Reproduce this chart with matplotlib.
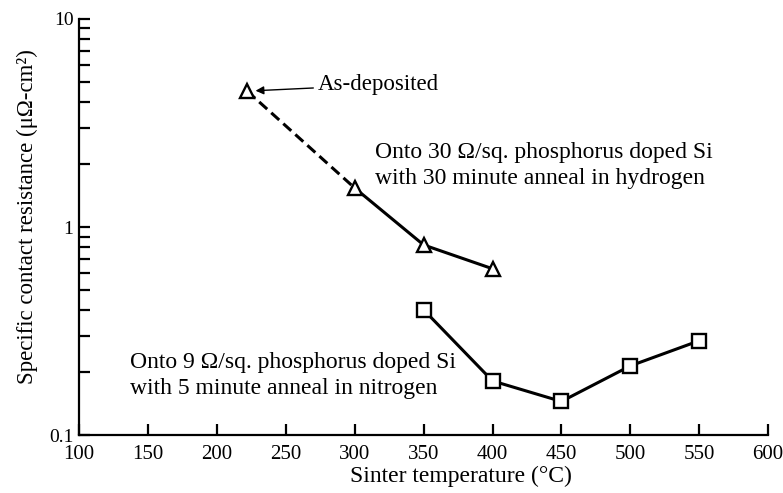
import matplotlib
matplotlib.use("Agg")
import matplotlib.pyplot as plt
from matplotlib.ticker import FixedLocator, FixedFormatter, NullFormatter

plt.rcParams["font.family"] = ["Liberation Serif", "DejaVu Serif"]

# 30 ohm/sq, 30 min anneal in H2 (first point is as-deposited)
temp_h2 = [222, 300, 350, 400]
res_h2 = [4.5, 1.54, 0.82, 0.63]

# 9 ohm/sq, 5 min anneal in N2
temp_n2 = [350, 400, 450, 500, 550]
res_n2 = [0.40, 0.182, 0.145, 0.215, 0.284]

x_ticks = [100, 150, 200, 250, 300, 350, 400, 450, 500, 550, 600]
y_ticks = [0.1, 1, 10]
y_tick_labels = ["0.1", "1", "10"]

fig = plt.figure(figsize=(7.83, 4.93), dpi=100)
ax = fig.add_axes([0.101, 0.1176, 0.880, 0.8439])

# as-deposited -> first anneal point is dashed
ax.plot(temp_h2[:2], res_h2[:2], color="black", lw=2.2, dashes=(3.5, 1.8))
ax.plot(temp_h2[1:], res_h2[1:], color="black", lw=2.2)
ax.plot(temp_h2, res_h2, ls="none", marker="^", ms=9.5, mfc="white",
        mec="black", mew=1.7, zorder=3)

ax.plot(temp_n2, res_n2, color="black", lw=2.2, marker="s", ms=9.5,
        mfc="white", mec="black", mew=1.7)

ax.set_yscale("log")
ax.set_xlim(100, 600)
ax.set_ylim(0.1, 10)

ax.xaxis.set_major_locator(FixedLocator(x_ticks))
ax.yaxis.set_major_locator(FixedLocator(y_ticks))
ax.yaxis.set_major_formatter(FixedFormatter(y_tick_labels))
minor = [m * d for d in (0.1, 1) for m in range(2, 10)]
ax.yaxis.set_minor_locator(FixedLocator(minor))
ax.yaxis.set_minor_formatter(NullFormatter())
ax.xaxis.set_minor_locator(FixedLocator([]))

ax.spines["top"].set_visible(False)
ax.spines["right"].set_visible(False)
for s in ("left", "bottom"):
    ax.spines[s].set_linewidth(1.6)

ax.tick_params(axis="both", which="both", direction="in", width=1.6)
ax.tick_params(axis="y", which="both", length=8, pad=4, labelsize=14)
ax.tick_params(axis="x", which="both", length=8, pad=7, labelsize=15)

ax.set_xlabel("Sinter temperature (°C)", fontsize=17)
ax.xaxis.set_label_coords(0.554, -0.075)
ax.set_ylabel("Specific contact resistance (μΩ-cm²)", fontsize=16.5)
ax.yaxis.set_label_coords(-0.059, 0.524)

ax.annotate("As-deposited", xy=(temp_h2[0], res_h2[0]), xytext=(273, 4.82),
            fontsize=16.5, ha="left", va="center",
            arrowprops=dict(arrowstyle="-|>", lw=1.0, color="black",
                            shrinkA=1, shrinkB=6, mutation_scale=12))

ax.text(315, 2.29, "Onto 30 Ω/sq. phosphorus doped Si", fontsize=17,
        ha="left", va="center")
ax.text(315, 1.72, "with 30 minute anneal in hydrogen", fontsize=17,
        ha="left", va="center")
ax.text(137, 0.222, "Onto 9 Ω/sq. phosphorus doped Si", fontsize=17,
        ha="left", va="center")
ax.text(137, 0.168, "with 5 minute anneal in nitrogen", fontsize=17,
        ha="left", va="center")

fig.savefig("out.png", dpi=100)
